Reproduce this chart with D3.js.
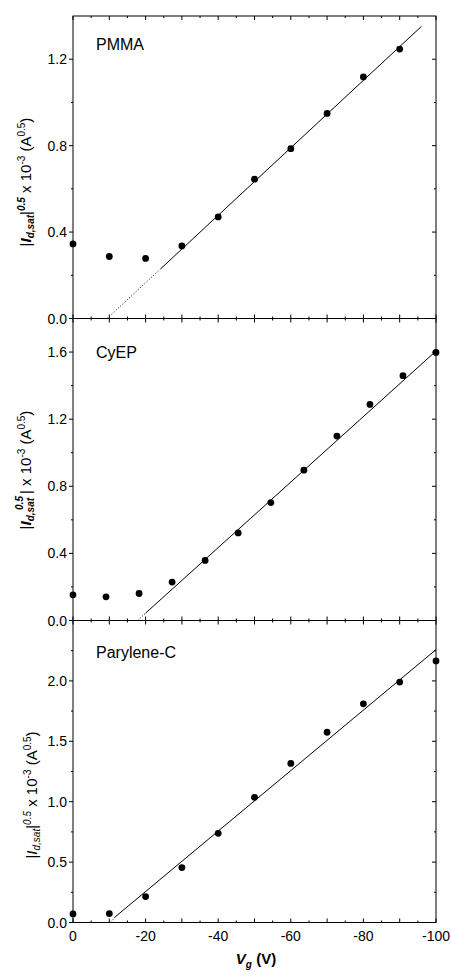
<!DOCTYPE html>
<html>
<head>
    <meta charset="utf-8" />
    <style>
        body { margin: 0; background: #fff; }
        svg text { font-family: Arial, "Liberation Sans", sans-serif; fill: #000; }
        .tick-label { font-size: 14px; }
        .panel-name { font-size: 16px; }
        .ytitle { font-size: 15px; }
        path.fit { stroke: #000; stroke-width: 1; fill: none; }
    </style>
    <script src="https://d3js.org/d3.v7.min.js"></script>
</head>
<body>
<script>

// gate voltage (V) and sqrt of saturation current for each dielectric
let vgPMMA = [0, -10, -20, -30, -40, -50, -60, -70, -80, -90];
let idPMMA = [0.345, 0.287, 0.278, 0.336, 0.470, 0.645, 0.786, 0.949, 1.118, 1.247];

let vgCyEP = [0, -9.1, -18.2, -27.3, -36.4, -45.5, -54.5, -63.6, -72.7, -81.8, -90.9, -100];
let idCyEP = [0.153, 0.141, 0.161, 0.229, 0.358, 0.522, 0.703, 0.896, 1.099, 1.288, 1.459, 1.598];

let vgParylene = [0, -10, -20, -30, -40, -50, -60, -70, -80, -90, -100];
let idParylene = [0.071, 0.074, 0.215, 0.455, 0.738, 1.036, 1.317, 1.575, 1.810, 1.990, 2.165];

// linear fits: dotted extrapolation + solid fit
let fitPMMAdot = [[-9.4, 0], [-24.2, 0.231]];
let fitPMMA = [[-24.2, 0.231], [-96, 1.352]];
let fitCyEPdot = [[-17.8, 0], [-20, 0.044]];
let fitCyEP = [[-20, 0.044], [-100, 1.606]];
let fitParyleneDot = [[-10.3, 0], [-11.6, 0.046]];
let fitParylene = [[-11.6, 0.046], [-100, 2.259]];

// axis ticks
let xTicks = [0, -10, -20, -30, -40, -50, -60, -70, -80, -90, -100];
let xMinor = [-5, -15, -25, -35, -45, -55, -65, -75, -85, -95];
let xLabels = [0, -20, -40, -60, -80, -100];
let yTicksPMMA = [0, 0.4, 0.8, 1.2];
let yMinorPMMA = [0.2, 0.6, 1.0];
let yTicksCyEP = [0, 0.4, 0.8, 1.2, 1.6];
let yMinorCyEP = [0.2, 0.6, 1.0, 1.4];
let yTicksParylene = [0, 0.5, 1.0, 1.5, 2.0];
let yMinorParylene = [0.25, 0.75, 1.25, 1.75, 2.25];

let W = 451, H = 976;
let left = 73, right = 436;

let svg = d3.select("body").append("svg")
    .attr("width", W)
    .attr("height", H);

let xScale = d3.scaleLinear().domain([0, -100]).range([left, right]);

let panels = [
    { name: "PMMA", vg: vgPMMA, id: idPMMA, dot: fitPMMAdot, fit: fitPMMA,
      ymax: 1.4, top: 16, bottom: 318.5, ticks: yTicksPMMA, minor: yMinorPMMA,
      title: "bold", tx: 31, ty: 182, ny: 50 },
    { name: "CyEP", vg: vgCyEP, id: idCyEP, dot: fitCyEPdot, fit: fitCyEP,
      ymax: 1.8, top: 318.5, bottom: 620.5, ticks: yTicksCyEP, minor: yMinorCyEP,
      title: "stacked", tx: 31, ty: 470, ny: 358 },
    { name: "Parylene-C", vg: vgParylene, id: idParylene, dot: fitParyleneDot, fit: fitParylene,
      ymax: 2.5, top: 620.5, bottom: 922.5, ticks: yTicksParylene, minor: yMinorParylene,
      title: "plain", tx: 37, ty: 795, ny: 658 }
];

let fmt = d3.format(".1f");

panels.forEach(p => {
    let yScale = d3.scaleLinear().domain([0, p.ymax]).range([p.bottom, p.top]);
    let g = svg.append("g");

    // frame
    g.append("rect")
        .attr("x", left).attr("y", p.top)
        .attr("width", right - left).attr("height", p.bottom - p.top)
        .attr("fill", "none").attr("stroke", "#000").attr("stroke-width", 1);

    // x ticks, inward on bottom and top
    let drawX = (vals, len) => {
        vals.forEach(v => {
            g.append("line")
                .attr("x1", xScale(v)).attr("x2", xScale(v))
                .attr("y1", p.bottom).attr("y2", p.bottom - len)
                .attr("stroke", "#000");
            g.append("line")
                .attr("x1", xScale(v)).attr("x2", xScale(v))
                .attr("y1", p.top).attr("y2", p.top + len)
                .attr("stroke", "#000");
        });
    };
    drawX(xTicks, 4);
    drawX(xMinor, 2);

    // y ticks: outward on left, inward on right
    let drawY = (vals, len) => {
        vals.forEach(v => {
            g.append("line")
                .attr("x1", left).attr("x2", left - len)
                .attr("y1", yScale(v)).attr("y2", yScale(v))
                .attr("stroke", "#000");
            g.append("line")
                .attr("x1", right).attr("x2", right - len)
                .attr("y1", yScale(v)).attr("y2", yScale(v))
                .attr("stroke", "#000");
        });
    };
    drawY(p.ticks, 4);
    drawY(p.minor, 2);

    g.selectAll("text.ylab")
        .data(p.ticks)
        .enter()
        .append("text")
        .attr("class", "tick-label")
        .attr("x", left - 6)
        .attr("y", d => yScale(d) + 5)
        .attr("text-anchor", "end")
        .text(d => fmt(d));

    // fits
    let line = d3.line().x(d => xScale(d[0])).y(d => yScale(d[1]));
    g.append("path").attr("class", "fit").attr("d", line(p.dot))
        .attr("stroke-dasharray", "1,2");
    g.append("path").attr("class", "fit").attr("d", line(p.fit));

    // points
    g.selectAll("circle")
        .data(p.vg.map((v, k) => [v, p.id[k]]))
        .enter()
        .append("circle")
        .attr("cx", d => xScale(d[0]))
        .attr("cy", d => yScale(d[1]))
        .attr("r", 3.4)
        .attr("fill", "#000");

    g.append("text")
        .attr("class", "panel-name")
        .attr("x", 96)
        .attr("y", p.ny)
        .text(p.name);

    // y title
    let t = g.append("text")
        .attr("class", "ytitle")
        .attr("text-anchor", "middle")
        .attr("transform", "translate(" + p.tx + "," + p.ty + ") rotate(-90)");
    let wt = p.title != "plain" ? "bold" : "normal";
    t.append("tspan").text("|");
    t.append("tspan").text("I").attr("font-style", "italic").attr("font-weight", wt);
    t.append("tspan").text("d,sat").attr("font-style", "italic").attr("font-weight", wt)
        .attr("font-size", "10px").attr("dy", 3);
    if (p.title == "stacked") {
        t.append("tspan").text("0.5").attr("font-style", "italic").attr("font-weight", wt)
            .attr("font-size", "10px").attr("dy", -11).attr("dx", -12);
        t.append("tspan").text("|").attr("dy", 8).attr("dx", 2);
    } else {
        t.append("tspan").text("|").attr("dy", -3);
        t.append("tspan").text("0.5").attr("font-style", "italic").attr("font-weight", wt)
            .attr("font-size", "10px").attr("dy", -6);
        t.append("tspan").text(" ").attr("dy", 6);
    }
    t.append("tspan").text(" x 10");
    t.append("tspan").text("-3").attr("font-size", "10px").attr("dy", -6);
    t.append("tspan").text(" (A").attr("dy", 6);
    t.append("tspan").text("0.5").attr("font-size", "10px").attr("dy", -6);
    t.append("tspan").text(")").attr("dy", 6);
});

// x tick labels on bottom panel
svg.selectAll("text.xlab")
    .data(xLabels)
    .enter()
    .append("text")
    .attr("class", "tick-label")
    .attr("x", d => xScale(d))
    .attr("y", 941)
    .attr("text-anchor", "middle")
    .text(d => d);

let xt = svg.append("text")
    .attr("x", 256).attr("y", 964)
    .attr("text-anchor", "middle")
    .attr("font-size", "15px")
    .attr("font-weight", "bold");
xt.append("tspan").text("V").attr("font-style", "italic");
xt.append("tspan").text("g").attr("font-style", "italic").attr("font-size", "10px").attr("dy", 4);
xt.append("tspan").text(" (V)").attr("dy", -4);

</script>
</body>
</html>
